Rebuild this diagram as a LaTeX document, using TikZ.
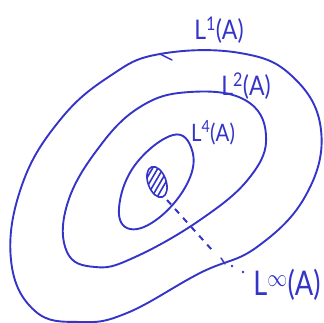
\documentclass[tikz,border=0pt]{standalone}
\usepackage{fontspec}
\setmainfont{Lato}
\definecolor{pen}{RGB}{52,52,200}
\begin{document}
\begin{tikzpicture}[x=1pt,y=-1pt,
  curve/.style={draw=pen,line width=1.9pt,line cap=round,line join=round},
  lbl/.style={text=pen,font=\fontsize{27}{29}\selectfont,inner sep=0pt}]
\useasboundingbox (0,0) rectangle (323,323);
% L1 outer
\draw[curve] plot[smooth cycle,tension=0.7] coordinates {
 (160,54) (240,53) (293,77) (321,130) (306,195) (257,247) (200,273)
 (127,313) (80,322) (35,311) (11,260) (22,185) (60,120) (110,76)};
% L2
\draw[curve] plot[smooth cycle,tension=0.7] coordinates {
 (190,92) (245,100) (266,135) (250,177) (200,220) (133,258) (95,267)
 (67,252) (67,205) (97,150) (140,107)};
% L4
\draw[curve] plot[smooth cycle,tension=0.7] coordinates {
 (173,135) (192,150) (188,182) (160,217) (130,229) (119,208) (135,165)};
% small blob
\begin{scope}[shift={(157,182)},rotate=20]
 \draw[curve,line width=1.6pt] (0,0) ellipse (9 and 16);
 \clip (0,0) ellipse (9 and 16);
 \foreach \d in {-16,-10,-4,2,8}
   \draw[pen,line width=1.6pt] (-12,\d+12) -- (12,\d-8);
\end{scope}
% ticks on curves
\draw[curve,line width=1.4pt] (160,54) -- (172,60);
\draw[curve,line width=1.4pt] (221,258) -- (225,264);
% dashed line
\coordinate (ds) at (167,200);
\coordinate (de) at (212,250);
\draw[pen,line width=2pt,dash pattern=on 6pt off 6pt] (ds) -- (de);
\fill[pen] (232,266) circle (1.3);
\fill[pen] (243,272) circle (1.3);
% labels
\node[lbl] (l1) at (219,30) {\scalebox{0.85}[1]{L\textsuperscript{1}(A)}};
\node[lbl] (l2) at (246,86) {\scalebox{0.85}[1]{L\textsuperscript{2}(A)}};
\node[lbl,font=\fontsize{24}{26}\selectfont] (l4) at (213,133) {\scalebox{0.85}[1]{L\textsuperscript{4}(A)}};
\node[lbl,font=\fontsize{34}{36}\selectfont] (linf) at (287,285) {\scalebox{0.8}[1]{L\textsuperscript{\(\infty\)}(A)}};
\end{tikzpicture}
\end{document}
